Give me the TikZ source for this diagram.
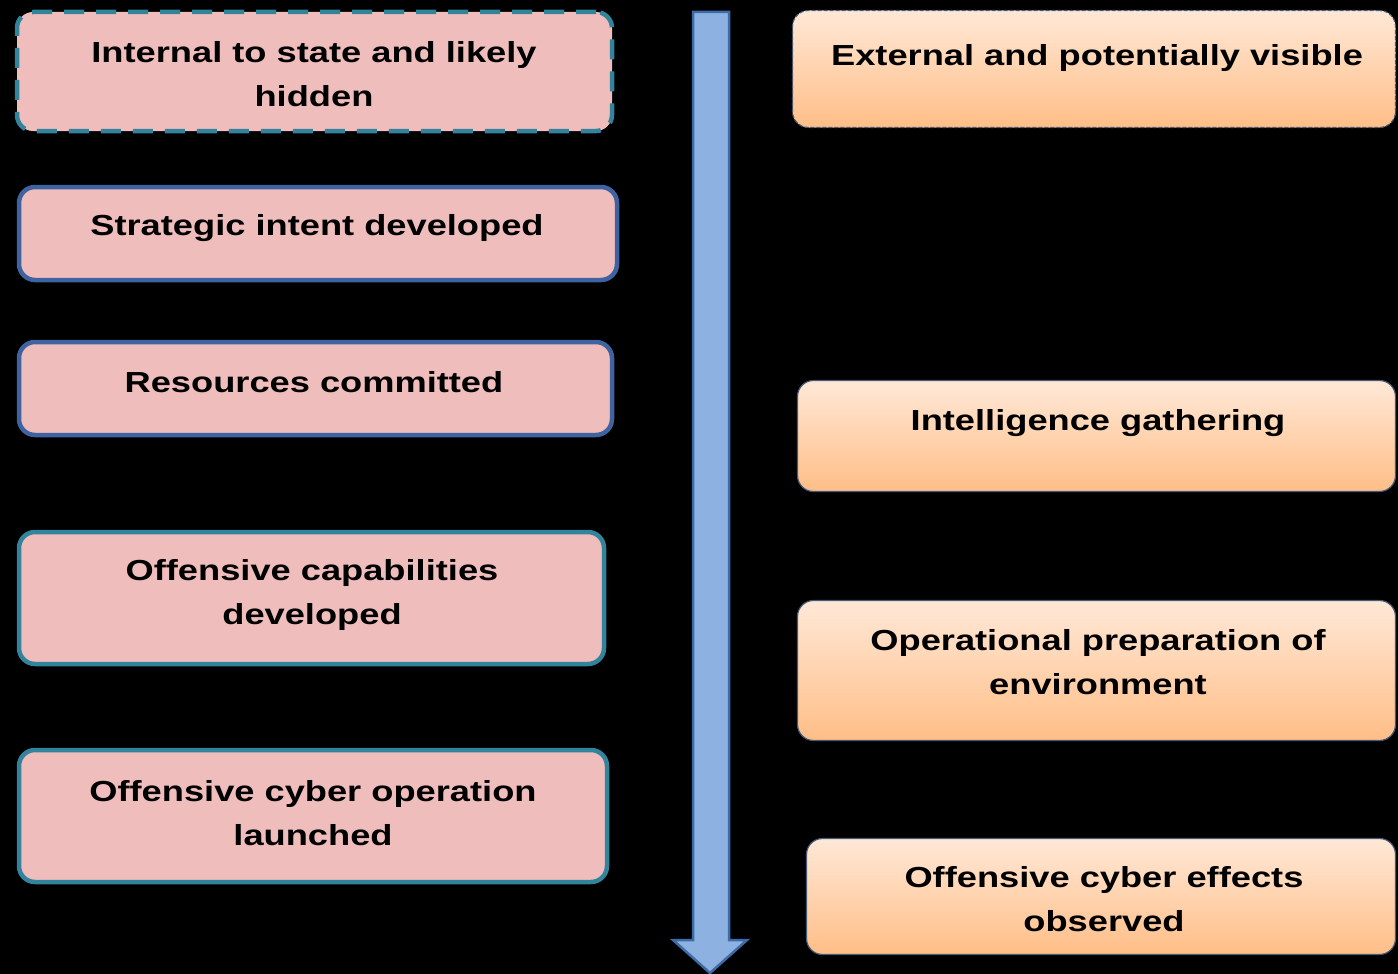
\documentclass[tikz,border=0pt]{standalone}
\usepackage{fontspec}
\setmainfont{Liberation Sans}[FakeStretch=1.25]
\definecolor{pinkfill}{RGB}{240,189,189}
\definecolor{tealline}{RGB}{49,132,155}
\definecolor{blueline}{RGB}{62,99,160}
\definecolor{peachtop}{RGB}{255,232,215}
\definecolor{peachbot}{RGB}{255,190,135}
\definecolor{peachline}{RGB}{70,90,120}
\definecolor{arrowfill}{RGB}{141,178,226}
\definecolor{arrowline}{RGB}{62,106,166}
\tikzset{
  leftbox/.style={draw, fill=pinkfill, line width=4.5pt, rounded corners=16pt, inner sep=0pt},
  rightbox/.style={draw=peachline, line width=1.2pt, rounded corners=16pt,
    top color=peachtop, bottom color=peachbot, inner sep=0pt},
  lbl/.style={font=\fontsize{29}{44}\selectfont\bfseries, align=center, inner sep=0pt},
}
\begin{document}
\begin{tikzpicture}[x=1pt, y=-1pt]
        \fill[black] (0,0) rectangle (1398,974);
        \useasboundingbox (0,0) rectangle (1398,974);

        % time arrow
        \draw[arrowline, fill=arrowfill, line width=2.5pt, line join=miter]
            (693,12) -- (729,12) -- (729,940) -- (747,940) -- (710,973)
            -- (673,940) -- (693,940) -- cycle;

        % internal steps
        \node[leftbox, draw=tealline, dash pattern=on 20pt off 12pt,
              minimum width=595pt, minimum height=119pt] (hidden) at (314.5,71.5) {};
        \node[leftbox, draw=blueline, minimum width=598pt, minimum height=93pt] (intent) at (318,233.5) {};
        \node[leftbox, draw=blueline, minimum width=593pt, minimum height=93pt] (resources) at (315.5,388.5) {};
        \node[leftbox, draw=tealline, minimum width=585pt, minimum height=132pt] (capab) at (311.5,598) {};
        \node[leftbox, draw=tealline, minimum width=588pt, minimum height=132pt] (launch) at (313,816) {};

        \node[lbl] (hiddentxt) at (314,74) {Internal to state and likely\\hidden};
        \node[lbl] (intenttxt) at (317,228) {Strategic intent developed};
        \node[lbl] (resourcestxt) at (314,382) {Resources committed};
        \node[lbl] (capabtxt) at (312,595) {Offensive capabilities\\developed};
        \node[lbl] (launchtxt) at (313,813) {Offensive cyber operation\\launched};

        % external steps
        \node[rightbox, dash pattern=on 4pt off 2pt,
              minimum width=603pt, minimum height=117pt] (visible) at (1094,69) {};
        \node[rightbox, minimum width=598pt, minimum height=111pt] (intel) at (1096.5,436) {};
        \node[rightbox, minimum width=598pt, minimum height=140pt] (prep) at (1096.5,670.5) {};
        \node[rightbox, minimum width=589pt, minimum height=116pt] (effects) at (1101,896.5) {};

        \node[lbl] (visibletxt) at (1097,58) {External and potentially visible};
        \node[lbl] (inteltxt) at (1098,423) {Intelligence gathering};
        \node[lbl] (preptxt) at (1098,662) {Operational preparation of\\environment};
        \node[lbl] (effectstxt) at (1104,899) {Offensive cyber effects\\observed};

    \end{tikzpicture}
\end{document}
